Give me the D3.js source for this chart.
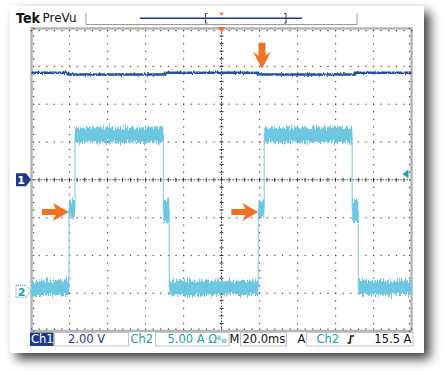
<!DOCTYPE html>
<html>
<head>
<meta charset="utf-8">
<script src="https://cdn.jsdelivr.net/npm/d3@7"></script>
<style>
  body { margin: 0; background: #fff; }
  svg { display: block; }
  text { font-family: "DejaVu Sans", sans-serif; }
</style>
</head>
<body>
<div id="chart"></div>
<script>
// scope settings
const timeRange = [-100, 100]   // ms, 20 ms/div
const divRange = [-4, 4]
const ch1Scale = 2        // V/div
const ch2Scale = 5        // A/div
const ch2Offset = -2.95   // div
const trigLevel = 15.5    // A

// ch1 voltage (V)
const ch1Time = [-100, -80.8, -29.7, 19.2, 70.3, 100]
const ch1Volts = [5.66, 5.57, 5.66, 5.57, 5.66, 5.66]

// ch2 current (A), level and noise spread per segment
const ch2Time = [-100, -80.3, -77.1, -30.6, -27.5, 19.4, 22.5, 68.8, 72, 100]
const ch2Amps = [0.45, 10.9, 20.7, 10.6, 0.45, 10.9, 20.7, 10.6, 0.45, 0.45]
const ch2Spread = [0.95, 1.15, 1.0, 1.5, 0.95, 1.15, 1.0, 1.5, 0.95]

// orange annotation arrows
const arrowsRight = [{ t: -80.3, a: 10.5 }, { t: 19.4, a: 10.5 }]
const arrowsDown = [{ t: 21.3, v: 5.66 }]

const W = 446, H = 371
const orange = "#f2711f", navy = "#1d3a8a", teal = "#1b9fb3", cyan = "#6ec7e1"

const svg = d3.select("#chart").append("svg").attr("width", W).attr("height", H)
const defs = svg.append("defs")

const shadow = defs.append("filter").attr("id", "shadow")
  .attr("x", -0.1).attr("y", -0.1).attr("width", 1.3).attr("height", 1.3)
shadow.append("feDropShadow").attr("dx", 6).attr("dy", 6)
  .attr("stdDeviation", 5.5).attr("flood-color", "#000").attr("flood-opacity", 0.75)

function noiseFilter(id, freq, scale, seed) {
  const f = defs.append("filter").attr("id", id)
    .attr("filterUnits", "userSpaceOnUse").attr("x", 0).attr("y", 0)
    .attr("width", W).attr("height", H)
    .attr("color-interpolation-filters", "sRGB")
  f.append("feTurbulence").attr("type", "fractalNoise")
    .attr("baseFrequency", freq).attr("numOctaves", 2).attr("seed", seed).attr("result", "t")
  f.append("feColorMatrix").attr("in", "t").attr("type", "matrix")
    .attr("values", "0 0 0 0 0.5  0 1 0 0 0  0 0 1 0 0  0 0 0 0 1").attr("result", "m")
  f.append("feDisplacementMap").attr("in", "SourceGraphic").attr("in2", "m")
    .attr("scale", scale).attr("xChannelSelector", "R").attr("yChannelSelector", "G")
}
noiseFilter("noise2", "0.95 0.12", 12, 4)
noiseFilter("noise1", "0.9 0.2", 3, 7)

// white panel with drop shadow
svg.append("rect").attr("x", 10).attr("y", 6).attr("width", 414).attr("height", 347)
  .attr("fill", "#fff").attr("filter", "url(#shadow)")

const x = d3.scaleLinear().domain(timeRange).range([31.5, 411.5])
const yDiv = d3.scaleLinear().domain(divRange).range([331, 28.5])
const y1 = v => yDiv(v / ch1Scale)
const y2 = a => yDiv(a / ch2Scale + ch2Offset)

// graticule
const g = svg.append("g")
const majorT = d3.range(timeRange[0], timeRange[1] + 0.01, 20)
const minorT = d3.range(timeRange[0], timeRange[1] + 0.01, 4)
const majorD = d3.range(divRange[0], divRange[1] + 0.01, 1)
const minorD = d3.range(divRange[0], divRange[1] + 0.01, 0.2)

majorT.slice(1, -1).filter(t => t !== 0).forEach(t => {
  g.selectAll(null).data(minorD).join("rect")
    .attr("x", x(t) - 0.5).attr("y", d => yDiv(d) - 0.5)
    .attr("width", 1.2).attr("height", 1.2).attr("fill", "#444")
})
majorD.slice(1, -1).filter(d => d !== 0).forEach(d => {
  g.selectAll(null).data(minorT).join("rect")
    .attr("x", t => x(t) - 0.5).attr("y", yDiv(d) - 0.5)
    .attr("width", 1.2).attr("height", 1.2).attr("fill", "#444")
})
// center lines
g.append("line").attr("x1", x(0)).attr("x2", x(0)).attr("y1", yDiv(-4)).attr("y2", yDiv(4))
  .attr("stroke", "#444").attr("stroke-dasharray", "1.5 1.5")
g.append("line").attr("x1", x(-100)).attr("x2", x(100)).attr("y1", yDiv(0)).attr("y2", yDiv(0))
  .attr("stroke", "#444").attr("stroke-dasharray", "1.5 1.5")
g.selectAll(null).data(minorD).join("line")
  .attr("x1", x(0) - 2).attr("x2", x(0) + 2).attr("y1", d => yDiv(d)).attr("y2", d => yDiv(d))
  .attr("stroke", "#333")
g.selectAll(null).data(minorT).join("line")
  .attr("y1", yDiv(0) - 2).attr("y2", yDiv(0) + 2).attr("x1", t => x(t)).attr("x2", t => x(t))
  .attr("stroke", "#333")
// border with ticks
g.append("rect").attr("x", x(-100)).attr("y", yDiv(4)).attr("width", x(100) - x(-100))
  .attr("height", yDiv(-4) - yDiv(4)).attr("fill", "none").attr("stroke", "#b6b6b6").attr("stroke-width", 2.5)
;[yDiv(4) + 1.5, yDiv(-4) - 2.5].forEach(yy => {
  g.selectAll(null).data(minorT).join("rect")
    .attr("x", t => x(t) - 0.5).attr("y", yy).attr("width", 1.2).attr("height", 1.2).attr("fill", "#333")
})
;[x(-100) + 1.5, x(100) - 2.5].forEach(xx => {
  g.selectAll(null).data(minorD).join("rect")
    .attr("x", xx).attr("y", d => yDiv(d) - 0.5).attr("width", 1.2).attr("height", 1.2).attr("fill", "#333")
})

// ch2 trace
const ch2Pts = ch2Time.map((t, i) => [t, ch2Amps[i]])
svg.append("path")
  .attr("d", d3.line().x(d => x(d[0])).y(d => y2(d[1])).curve(d3.curveStepAfter)(ch2Pts))
  .attr("fill", "none").attr("stroke", "#9ad7ea").attr("stroke-width", 1.3)
svg.append("g").attr("filter", "url(#noise2)")
  .selectAll("rect").data(ch2Spread).join("rect")
  .attr("x", (s, i) => x(ch2Time[i]))
  .attr("width", (s, i) => x(ch2Time[i + 1]) - x(ch2Time[i]))
  .attr("y", (s, i) => y2(ch2Amps[i] + s))
  .attr("height", (s, i) => y2(ch2Amps[i] - s) - y2(ch2Amps[i] + s))
  .attr("fill", cyan)

// ch1 trace
const ch1Pts = ch1Time.map((t, i) => [t, ch1Volts[i]])
svg.append("path")
  .attr("d", d3.line().x(d => x(d[0])).y(d => y1(d[1])).curve(d3.curveStepAfter)(ch1Pts))
  .attr("fill", "none").attr("stroke", "#1f50a6").attr("stroke-width", 2.6)
  .attr("filter", "url(#noise1)")

// orange arrows
arrowsRight.forEach(a => {
  const tx = x(a.t), ty = y2(a.a)
  svg.append("path").attr("fill", orange)
    .attr("d", `M${tx},${ty} L${tx - 16},${ty - 9} L${tx - 13},${ty - 3} L${tx - 27},${ty - 3}
      L${tx - 27},${ty + 3} L${tx - 13},${ty + 3} L${tx - 16},${ty + 9} Z`)
})
arrowsDown.forEach(a => {
  const tx = x(a.t), ty = y1(a.v) - 4
  svg.append("path").attr("fill", orange)
    .attr("d", `M${tx},${ty} L${tx - 9},${ty - 17} L${tx - 3.5},${ty - 13} L${tx - 3.5},${ty - 26}
      L${tx + 3.5},${ty - 26} L${tx + 3.5},${ty - 13} L${tx + 9},${ty - 17} Z`)
})

// trigger position marker and level arrow
svg.append("path").attr("fill", orange)
  .attr("d", `M${x(0) - 4},${yDiv(4) - 1.5} L${x(0) + 4},${yDiv(4) - 1.5} L${x(0)},${yDiv(4) + 4} Z`)
const ty = y2(trigLevel)
svg.append("path").attr("fill", teal)
  .attr("d", `M${x(100) - 9},${ty} L${x(100) - 3},${ty - 4.5} L${x(100) - 3},${ty + 4.5} Z`)

// channel markers
const m1 = yDiv(0)
svg.append("path").attr("fill", navy)
  .attr("d", `M16,${m1 - 6.5} L26,${m1 - 6.5} L31,${m1} L26,${m1 + 6.5} L16,${m1 + 6.5} Z`)
svg.append("text").attr("x", 21).attr("y", m1 + 4.5).attr("text-anchor", "middle")
  .attr("fill", "#fff").attr("font-size", 11).attr("font-weight", "bold").text("1")
const m2 = y2(0)
svg.append("path").attr("fill", "#fff").attr("stroke", teal).attr("stroke-dasharray", "1 1")
  .attr("d", `M16,${m2 - 6} L26,${m2 - 6} L31,${m2} L26,${m2 + 6} L16,${m2 + 6} Z`)
svg.append("text").attr("x", 21.5).attr("y", m2 + 4.5).attr("text-anchor", "middle")
  .attr("fill", teal).attr("font-size", 11).attr("font-weight", "bold").text("2")

// header
svg.append("text").attr("x", 16).attr("y", 22.7).attr("font-family", "Liberation Serif")
  .attr("font-weight", "bold").attr("font-size", 14.5).attr("fill", "#111")
  .attr("textLength", 24).attr("lengthAdjust", "spacingAndGlyphs").text("Tek")
svg.append("text").attr("x", 42.5).attr("y", 22.3).attr("font-size", 12).attr("fill", "#111")
  .attr("textLength", 34).attr("lengthAdjust", "spacingAndGlyphs").text("PreVu")
svg.append("path").attr("fill", "none").attr("stroke", "#9a9a9a")
  .attr("d", "M86,13 L86,24.5 L357,24.5 L357,13")
svg.append("line").attr("x1", 140).attr("x2", 302).attr("y1", 18.3).attr("y2", 18.3)
  .attr("stroke", navy).attr("stroke-width", 1.4)
svg.append("path").attr("fill", "none").attr("stroke", "#555").attr("stroke-width", 1.2)
  .attr("d", "M207.5,13.5 L205.5,13.5 L205.5,23 L207.5,23 M284,13.5 L286,13.5 L286,23 L284,23")
svg.append("path").attr("fill", orange).attr("d", `M${x(0) - 2.5},12.8 L${x(0) + 2.5},12.8 L${x(0)},15.8 Z`)

// status bar
const sb = svg.append("g").attr("font-size", 11.5)
const boxes = [[54, 128], [155, 228.5], [240, 286], [306, 412.5]]
boxes.forEach(b => sb.append("rect").attr("x", b[0] + 0.5).attr("y", 332.5)
  .attr("width", b[1] - b[0]).attr("height", 13.5).attr("fill", "none").attr("stroke", "#c4c4c4"))
sb.append("rect").attr("x", 30).attr("y", 332.5).attr("width", 23.5).attr("height", 13.5).attr("fill", navy)
sb.append("text").attr("x", 31).attr("y", 343.4).attr("fill", "#fff").text("Ch1")
sb.append("text").attr("x", 68).attr("y", 343.4).attr("fill", navy).text("2.00 V")
sb.append("text").attr("x", 130.5).attr("y", 343.4).attr("fill", teal).text("Ch2")
const t5 = sb.append("text").attr("x", 167.5).attr("y", 343.4).attr("fill", teal)
t5.append("tspan").text("5.00 A Ω")
t5.append("tspan").attr("font-size", 6).attr("dy", -3).text("B")
t5.append("tspan").attr("font-size", 6).attr("dy", 3).text("W")
sb.append("text").attr("x", 229.5).attr("y", 343.4).attr("fill", "#111").text("M")
sb.append("text").attr("x", 242.5).attr("y", 343.4).attr("fill", "#111").text("20.0ms")
sb.append("text").attr("x", 297.5).attr("y", 343.4).attr("fill", "#111").text("A")
sb.append("text").attr("x", 316.5).attr("y", 343.4).attr("fill", teal).text("Ch2")
sb.append("path").attr("fill", "none").attr("stroke", "#111").attr("stroke-width", 1.6)
  .attr("d", "M347.5,343 L350,343 L350.8,336 L354,336")
sb.append("text").attr("x", 411.5).attr("y", 343.4).attr("text-anchor", "end").attr("fill", "#111").text("15.5 A")
</script>
</body>
</html>
